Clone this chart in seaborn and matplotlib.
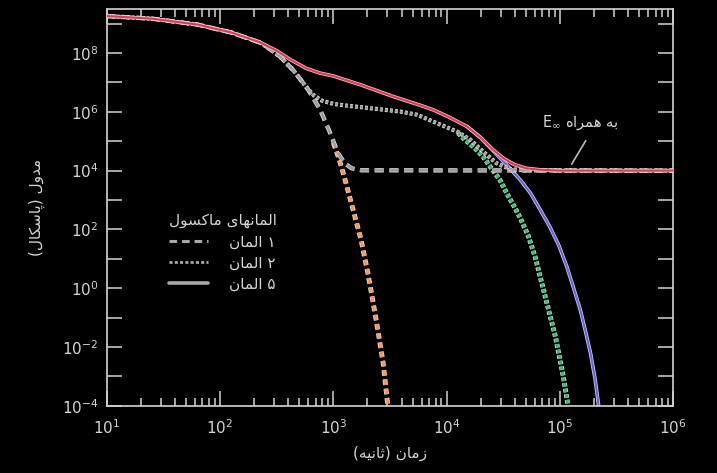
import matplotlib
matplotlib.use("Agg")
import matplotlib.pyplot as plt
import matplotlib.patheffects as pe
from matplotlib.lines import Line2D
from matplotlib.ticker import FixedLocator, NullLocator
import numpy as np
import seaborn as sns

# values: log10(time, s) and log10(modulus, Pa)
red_lt = [1.0, 1.4, 1.8, 2.1, 2.35, 2.5, 2.62, 2.76, 2.88, 3.0, 3.24, 3.53, 3.77, 3.88, 4.0, 4.18, 4.3, 4.4, 4.5, 4.6, 4.7, 4.82, 5.0, 6.0]
red_le = [9.26, 9.17, 8.97, 8.70, 8.37, 8.08, 7.78, 7.48, 7.32, 7.22, 6.92, 6.52, 6.22, 6.07, 5.86, 5.50, 5.12, 4.74, 4.42, 4.20, 4.08, 4.03, 4.0, 4.0]

blue_lt = [4.18, 4.30, 4.40, 4.50, 4.58, 4.65, 4.74, 4.82, 4.91, 4.99, 5.06, 5.12, 5.18, 5.23, 5.27, 5.31, 5.34]
blue_le = [5.50, 5.12, 4.72, 4.31, 3.98, 3.68, 3.23, 2.70, 2.09, 1.45, 0.73, 0.0, -0.75, -1.55, -2.23, -3.1, -3.98]

dash_lt = [1.0, 1.4, 1.8, 2.1, 2.35, 2.41, 2.53, 2.65, 2.77, 2.88, 2.97, 3.04, 3.10, 3.16, 3.25, 6.0]
dash_le = [9.26, 9.17, 8.97, 8.70, 8.36, 8.22, 7.88, 7.40, 6.80, 6.10, 5.30, 4.60, 4.25, 4.08, 4.01, 4.0]

orange_lt = [3.00, 3.05, 3.10, 3.17, 3.245, 3.30, 3.35, 3.40, 3.44, 3.48]
orange_le = [4.95, 4.40, 3.74, 2.73, 1.64, 0.60, -0.46, -1.6, -2.56, -3.98]

dot_lt = [1.0, 1.4, 1.8, 2.1, 2.35, 2.41, 2.53, 2.65, 2.77, 2.83, 2.90, 3.0, 3.1, 3.24, 3.40, 3.59, 3.74, 3.88, 4.09, 4.21, 4.32, 4.44, 4.56, 4.7, 6.0]
dot_le = [9.26, 9.17, 8.97, 8.70, 8.36, 8.22, 7.88, 7.40, 6.80, 6.55, 6.38, 6.27, 6.22, 6.16, 6.09, 6.01, 5.90, 5.67, 5.33, 5.05, 4.65, 4.25, 4.05, 4.01, 4.0]

green_lt = [4.10, 4.16, 4.24, 4.32, 4.40, 4.47, 4.53, 4.60, 4.65, 4.72, 4.78, 4.84, 4.90, 4.96, 5.03, 5.07]
green_le = [5.28, 5.05, 4.80, 4.48, 4.05, 3.68, 3.23, 2.75, 2.38, 1.78, 1.07, 0.16, -0.75, -1.66, -3.03, -3.98]

legend_labels = ["۱ المان", "۲ المان", "۵ المان"]

# minimal Persian shaping (matplotlib has no RTL / joining support)
FORMS = {
    "ا": ("\uFE8D", "\uFE8E", None, None),
    "ب": ("\uFE8F", "\uFE90", "\uFE91", "\uFE92"),
    "پ": ("\uFB56", "\uFB57", "\uFB58", "\uFB59"),
    "ث": ("\uFE99", "\uFE9A", "\uFE9B", "\uFE9C"),
    "د": ("\uFEA9", "\uFEAA", None, None),
    "ر": ("\uFEAD", "\uFEAE", None, None),
    "ز": ("\uFEAF", "\uFEB0", None, None),
    "س": ("\uFEB1", "\uFEB2", "\uFEB3", "\uFEB4"),
    "ک": ("\uFB8E", "\uFB8F", "\uFB90", "\uFB91"),
    "ل": ("\uFEDD", "\uFEDE", "\uFEDF", "\uFEE0"),
    "م": ("\uFEE1", "\uFEE2", "\uFEE3", "\uFEE4"),
    "ن": ("\uFEE5", "\uFEE6", "\uFEE7", "\uFEE8"),
    "ه": ("\uFEE9", "\uFEEA", "\uFEEB", "\uFEEC"),
    "و": ("\uFEED", "\uFEEE", None, None),
    "ی": ("\uFBFC", "\uFBFD", "\uFBFE", "\uFBFF"),
}


def fa(text):
    out = []
    for i, c in enumerate(text):
        if c not in FORMS:
            out.append(c)
            continue
        prev = text[i - 1] if i > 0 else ""
        nxt = text[i + 1] if i + 1 < len(text) else ""
        iso, fin, ini, med = FORMS[c]
        jp = prev in FORMS and FORMS[prev][2] is not None
        jn = ini is not None and nxt in FORMS
        if jp and jn:
            out.append(med)
        elif jp:
            out.append(fin)
        elif jn:
            out.append(ini)
        else:
            out.append(iso)
    s = "".join(reversed(out))
    return s.translate(str.maketrans("()", ")("))


sns.set_style("ticks")
plt.rcParams["font.family"] = ["DejaVu Sans"]
plt.rcParams["axes.facecolor"] = "black"
plt.rcParams["figure.facecolor"] = "black"

fg = "#d4d4d4"
fig = plt.figure(figsize=(7.17, 4.73), dpi=100)
ax = fig.add_axes([0.1488, 0.1423, 0.7903, 0.8387])
ax.set_xscale("log")
ax.set_yscale("log")


def curve(lt, le, color, edge, lw, ls, z):
    sns.lineplot(x=10.0 ** np.array(lt), y=10.0 ** np.array(le), ax=ax, color=color,
                 lw=lw, linestyle=ls, estimator=None, sort=False, zorder=z,
                 path_effects=[pe.Stroke(linewidth=lw + 1.1, foreground=edge), pe.Normal()])


curve(orange_lt, orange_le, "#ee9a68", "#f6dcc6", 2.4, (0, (1.7, 1.1)), 2)
curve(green_lt, green_le, "#3fb877", "#c4ead3", 2.4, (0, (1.1, 0.6)), 2)
curve(blue_lt, blue_le, "#6565d0", "#cfcff2", 1.5, "-", 2)
curve(dash_lt, dash_le, "#9c9c9c", "#e4e4e4", 2.0, (0, (3.3, 2.0)), 3)
curve(dot_lt, dot_le, "#9c9c9c", "#e4e4e4", 1.9, (0, (1.1, 0.8)), 3)
curve(red_lt, red_le, "#d83a52", "#f2c4cc", 1.5, "-", 4)

ax.set_xlim(10, 1e6)
ax.set_ylim(1e-4, 10 ** 9.5)

yt = [10.0 ** k for k in range(-4, 10)]
ax.yaxis.set_major_locator(FixedLocator(yt))
ax.yaxis.set_minor_locator(NullLocator())
ax.set_yticklabels(["$10^{%d}$" % k if k % 2 == 0 else "" for k in range(-4, 10)])

ax.tick_params(which="both", direction="in", top=True, right=True, color=fg, width=1.1,
               labelcolor=fg, labelsize=11)
ax.tick_params(which="major", length=11)
ax.tick_params(which="minor", length=6)
ax.tick_params(axis="x", pad=9)
ax.tick_params(axis="y", pad=6)
for sp in ax.spines.values():
    sp.set_color(fg)
    sp.set_linewidth(1.2)

ax.set_xlabel(fa("زمان (ثانیه)"), color=fg, fontsize=11)
ax.set_ylabel(fa("مدول (پاسکال)"), color=fg, fontsize=11)
ax.xaxis.set_label_coords(0.5, -0.102)
ax.yaxis.set_label_coords(-0.108, 0.5)

# E-infinity callout
ax.annotate("", xy=(10 ** 5.09, 10 ** 4.14), xytext=(10 ** 5.24, 10 ** 5.10),
            arrowprops=dict(arrowstyle="-", color="#bbbbbb", lw=1.2))
ax.text(10 ** 5.18, 10 ** 5.63, "$\\mathrm{E}_\\infty$ " + fa("به همراه"), color=fg,
        fontsize=10.5, ha="center", va="center")

handles = [
    Line2D([], [], color="#a8a8a8", lw=2.2, linestyle=(0, (2.5, 1.6))),
    Line2D([], [], color="#a8a8a8", lw=2.0, linestyle=(0, (1.1, 0.8))),
    Line2D([], [], color="#a8a8a8", lw=2.6, linestyle="-"),
]
leg = ax.legend(handles, [fa(s) for s in legend_labels], title=fa("المانهای ماکسول"),
                loc="upper left", bbox_to_anchor=(0.085, 0.52), frameon=False,
                fontsize=11, title_fontsize=11, handlelength=2.5, handletextpad=1.4,
                labelspacing=0.4, labelcolor=fg)
leg.get_title().set_color(fg)

fig.savefig("out.png", dpi=100, facecolor="black")
